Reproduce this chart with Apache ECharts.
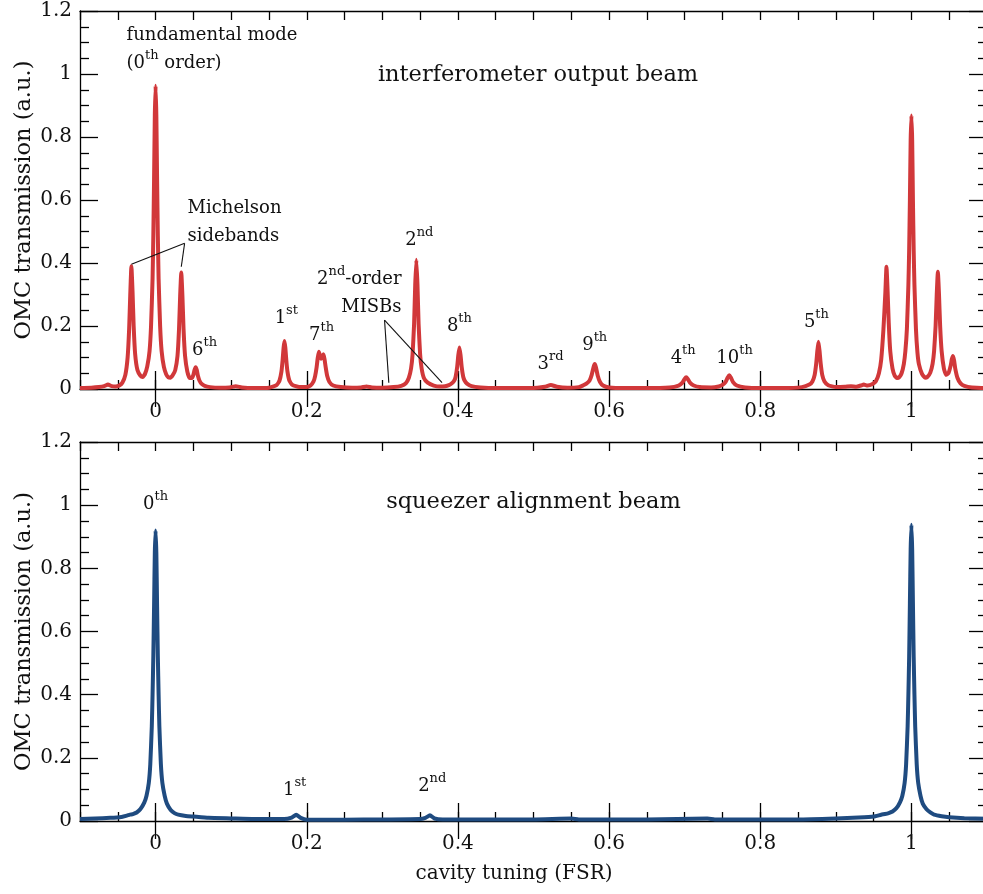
<!DOCTYPE html>
<html>
<head>
<meta charset="utf-8">
<script src="https://cdn.jsdelivr.net/npm/echarts@6/dist/echarts.min.js"></script>
<style>
html,body{margin:0;padding:0;background:#fff;overflow:hidden;}
#chart{width:992px;height:894px;}
</style>
</head>
<body>
<div id="chart"></div>
<script>
// ---------- data ----------
const xMajorTicks = [0, 0.2, 0.4, 0.6, 0.8, 1];
const xMinorTicks = [-0.1, -0.05, 0, 0.05, 0.1, 0.15, 0.2, 0.25, 0.3, 0.35, 0.4, 0.45, 0.5, 0.55, 0.6, 0.65, 0.7, 0.75, 0.8, 0.85, 0.9, 0.95, 1, 1.05, 1.1];

// interferometer output beam (x in FSR, y in a.u.)
const outputBeam = [
[-0.100,0.003],[-0.085,0.004],[-0.075,0.006],[-0.068,0.009],[-0.063,0.014],[-0.058,0.009],[-0.053,0.008],[-0.048,0.011],[-0.044,0.02],[-0.040,0.045],[-0.037,0.1],[-0.035,0.19],[-0.0335,0.3],[-0.032,0.39],[-0.0305,0.31],[-0.029,0.2],[-0.027,0.11],[-0.024,0.06],[-0.020,0.042],[-0.017,0.038],[-0.014,0.048],[-0.011,0.072],[-0.008,0.12],[-0.006,0.2],[-0.004,0.35],[-0.003,0.485],[-0.002,0.665],[-0.001,0.87],[0,0.963],[0.001,0.87],[0.002,0.665],[0.003,0.485],[0.004,0.35],[0.006,0.2],[0.008,0.12],[0.011,0.07],[0.014,0.047],[0.017,0.037],[0.020,0.036],[0.023,0.045],[0.026,0.06],[0.029,0.105],[0.031,0.19],[0.0325,0.295],[0.034,0.37],[0.0355,0.295],[0.037,0.19],[0.039,0.105],[0.042,0.055],[0.045,0.035],[0.048,0.035],[0.050,0.045],[0.0515,0.06],[0.053,0.069],[0.0545,0.06],[0.056,0.042],[0.058,0.027],[0.061,0.016],[0.065,0.01],[0.072,0.006],[0.085,0.004],[0.098,0.005],[0.106,0.009],[0.114,0.005],[0.13,0.003],[0.15,0.004],[0.160,0.012],[0.164,0.027],[0.1665,0.055],[0.168,0.09],[0.1693,0.13],[0.1705,0.152],[0.1717,0.13],[0.173,0.09],[0.1745,0.055],[0.177,0.027],[0.181,0.013],[0.19,0.006],[0.2,0.006],[0.205,0.011],[0.209,0.024],[0.211,0.04],[0.213,0.068],[0.2145,0.098],[0.216,0.118],[0.2175,0.106],[0.219,0.096],[0.2205,0.103],[0.222,0.11],[0.2235,0.095],[0.225,0.07],[0.227,0.042],[0.230,0.022],[0.235,0.011],[0.245,0.006],[0.26,0.004],[0.272,0.005],[0.279,0.008],[0.286,0.005],[0.30,0.004],[0.315,0.006],[0.325,0.01],[0.331,0.018],[0.335,0.035],[0.338,0.065],[0.340,0.11],[0.342,0.205],[0.3435,0.33],[0.345,0.41],[0.3465,0.33],[0.348,0.205],[0.350,0.11],[0.352,0.065],[0.355,0.035],[0.360,0.02],[0.368,0.011],[0.376,0.008],[0.383,0.009],[0.388,0.012],[0.392,0.018],[0.395,0.026],[0.397,0.039],[0.399,0.07],[0.4005,0.107],[0.402,0.132],[0.4035,0.107],[0.405,0.07],[0.407,0.039],[0.409,0.026],[0.412,0.017],[0.418,0.009],[0.43,0.005],[0.45,0.003],[0.48,0.003],[0.505,0.004],[0.515,0.007],[0.523,0.013],[0.531,0.007],[0.545,0.004],[0.56,0.006],[0.566,0.012],[0.570,0.017],[0.574,0.026],[0.577,0.045],[0.5795,0.07],[0.581,0.079],[0.5825,0.07],[0.585,0.042],[0.588,0.022],[0.592,0.011],[0.60,0.005],[0.62,0.003],[0.65,0.003],[0.68,0.005],[0.692,0.011],[0.697,0.02],[0.700,0.032],[0.702,0.037],[0.704,0.032],[0.707,0.02],[0.712,0.011],[0.72,0.006],[0.735,0.005],[0.745,0.008],[0.750,0.013],[0.754,0.022],[0.757,0.037],[0.759,0.044],[0.761,0.037],[0.764,0.022],[0.769,0.011],[0.78,0.005],[0.80,0.003],[0.83,0.003],[0.855,0.006],[0.865,0.014],[0.869,0.024],[0.872,0.045],[0.874,0.08],[0.8755,0.12],[0.877,0.15],[0.8785,0.12],[0.880,0.08],[0.882,0.045],[0.885,0.024],[0.890,0.012],[0.90,0.006],[0.912,0.007],[0.920,0.009],[0.927,0.007],[0.933,0.011],[0.937,0.014],[0.942,0.011],[0.948,0.015],[0.953,0.025],[0.957,0.05],[0.960,0.093],[0.963,0.19],[0.9655,0.305],[0.967,0.388],[0.9685,0.31],[0.970,0.21],[0.972,0.12],[0.975,0.065],[0.978,0.042],[0.981,0.035],[0.984,0.038],[0.987,0.05],[0.990,0.08],[0.992,0.12],[0.994,0.19],[0.996,0.33],[0.997,0.44],[0.998,0.6],[0.999,0.79],[1.000,0.868],[1.001,0.79],[1.002,0.6],[1.003,0.44],[1.004,0.33],[1.006,0.19],[1.008,0.115],[1.010,0.078],[1.014,0.048],[1.018,0.036],[1.021,0.038],[1.025,0.052],[1.028,0.08],[1.030,0.12],[1.032,0.2],[1.0335,0.3],[1.035,0.372],[1.0365,0.3],[1.038,0.2],[1.040,0.12],[1.043,0.065],[1.046,0.045],[1.049,0.05],[1.052,0.075],[1.0535,0.095],[1.055,0.105],[1.0565,0.09],[1.058,0.065],[1.061,0.035],[1.065,0.018],[1.07,0.01],[1.08,0.005],[1.1,0.003]
];

// squeezer alignment beam
const squeezerBeam = [
[-0.1,0.006],[-0.08,0.008],[-0.06,0.01],[-0.045,0.013],[-0.038,0.017],[-0.034,0.02],[-0.03,0.022],[-0.025,0.027],[-0.02,0.038],[-0.015,0.058],[-0.012,0.08],[-0.009,0.12],[-0.007,0.18],[-0.005,0.3],[-0.004,0.4],[-0.003,0.52],[-0.002,0.68],[-0.001,0.85],[0,0.92],[0.001,0.85],[0.002,0.68],[0.003,0.52],[0.004,0.4],[0.005,0.3],[0.007,0.18],[0.009,0.12],[0.012,0.08],[0.015,0.055],[0.02,0.035],[0.025,0.025],[0.03,0.02],[0.04,0.016],[0.05,0.014],[0.07,0.01],[0.1,0.008],[0.13,0.006],[0.17,0.006],[0.18,0.011],[0.186,0.02],[0.192,0.01],[0.2,0.004],[0.25,0.004],[0.3,0.005],[0.35,0.006],[0.357,0.01],[0.363,0.018],[0.369,0.008],[0.38,0.005],[0.45,0.005],[0.5,0.005],[0.55,0.008],[0.56,0.005],[0.65,0.005],[0.73,0.008],[0.74,0.005],[0.85,0.005],[0.9,0.008],[0.93,0.011],[0.95,0.014],[0.96,0.02],[0.965,0.022],[0.97,0.025],[0.975,0.03],[0.98,0.04],[0.985,0.06],[0.988,0.08],[0.991,0.12],[0.993,0.18],[0.995,0.3],[0.996,0.4],[0.997,0.52],[0.998,0.69],[0.999,0.86],[1.0,0.938],[1.001,0.86],[1.002,0.69],[1.003,0.52],[1.004,0.4],[1.005,0.3],[1.007,0.18],[1.009,0.12],[1.012,0.08],[1.015,0.055],[1.02,0.037],[1.025,0.027],[1.03,0.02],[1.04,0.015],[1.05,0.012],[1.07,0.009],[1.1,0.007]
];

// annotations: [x, y, text, align, kind]
const outputLabels = [
  [-0.0384, 1.079, 'fundamental mode\n(0{s|th} order)', 'left'],
  [0.506, 0.997, 'interferometer output beam', 'center', 'title'],
  [0.0423, 0.529, 'Michelson\nsidebands', 'left'],
  [0.0648, 0.124, '6{s|th}', 'center'],
  [0.173, 0.225, '1{s|st}', 'center'],
  [0.2196, 0.171, '7{s|th}', 'center'],
  [0.3254, 0.305, '2{s|nd}-order\nMISBs', 'right'],
  [0.349, 0.473, '2{s|nd}', 'center'],
  [0.402, 0.200, '8{s|th}', 'center'],
  [0.5225, 0.079, '3{s|rd}', 'center'],
  [0.581, 0.140, '9{s|th}', 'center'],
  [0.698, 0.098, '4{s|th}', 'center'],
  [0.766, 0.098, '10{s|th}', 'center'],
  [0.8743, 0.213, '5{s|th}', 'center']
];
const squeezerLabels = [
  [0.0, 1.002, '0{s|th}', 'center'],
  [0.5, 1.009, 'squeezer alignment beam', 'center', 'title'],
  [0.184, 0.097, '1{s|st}', 'center'],
  [0.366, 0.110, '2{s|nd}', 'center']
];
// leader lines: [[x1,y1],[x2,y2]]
const leaderLines = [
  [[-0.032, 0.396], [0.0384, 0.4625]],
  [[0.0384, 0.4625], [0.034, 0.388]],
  [[0.3029, 0.219], [0.3086, 0.02]],
  [[0.3029, 0.219], [0.379, 0.02]]
];

// ---------- styling ----------
const FONT = 'DejaVu Serif';
const AX = '#000';
const TXT = '#111';
const chart = echarts.init(document.getElementById('chart'), null, {renderer: 'canvas'});

const grids = [
  {left: 80, top: 11, width: 907, height: 378},
  {left: 80, top: 442, width: 907, height: 379}
];

function xAxes(gi, withName) {
  const base = {gridIndex: gi, type: 'value', min: -0.1, max: 1.1, splitLine: {show: false}};
  const line = {show: true, onZero: false, lineStyle: {color: AX, width: 1.3}};
  return [
    Object.assign({}, base, {
      position: 'bottom', axisLine: line,
      axisTick: {show: true, inside: true, length: 9, customValues: xMinorTicks, lineStyle: {color: AX, width: 1.3}},
      axisLabel: {show: true, customValues: xMajorTicks, margin: 13, fontFamily: FONT, fontSize: 20, color: TXT},
      name: withName ? 'cavity tuning (FSR)' : '',
      nameLocation: 'middle', nameGap: 43,
      nameTextStyle: {fontFamily: FONT, fontSize: 20, color: TXT, padding: [0, 39, 0, 0]}
    }),
    Object.assign({}, base, {
      position: 'bottom', axisLine: {show: false},
      axisTick: {show: true, inside: true, length: 18, customValues: xMajorTicks, lineStyle: {color: AX, width: 1.3}},
      axisLabel: {show: false}
    }),
    Object.assign({}, base, {
      position: 'top', axisLine: line,
      axisTick: {show: true, inside: true, length: 9, customValues: xMinorTicks, lineStyle: {color: AX, width: 1.3}},
      axisLabel: {show: false}
    }),
    Object.assign({}, base, {
      position: 'top', axisLine: {show: false},
      axisTick: {show: true, inside: true, length: 18, customValues: xMajorTicks, lineStyle: {color: AX, width: 1.3}},
      axisLabel: {show: false}
    })
  ];
}

function yAxes(gi) {
  const base = {gridIndex: gi, type: 'value', min: 0, max: 1.2, interval: 0.2, splitLine: {show: false}};
  const tick = {show: true, inside: true, length: 18, lineStyle: {color: AX, width: 1.3}};
  const minor = {show: true, splitNumber: 4, length: 9, lineStyle: {color: AX, width: 1.3}};
  return [
    Object.assign({}, base, {
      position: 'left',
      axisLine: {show: true, onZero: false, lineStyle: {color: AX, width: 1.3}},
      axisTick: tick, minorTick: minor,
      axisLabel: {show: true, margin: 8, fontFamily: FONT, fontSize: 20, color: TXT},
      name: 'OMC transmission (a.u.)', nameLocation: 'middle', nameGap: 44,
      nameMoveOverlap: false,
      nameTextStyle: {fontFamily: FONT, fontSize: 22.5, color: TXT}
    }),
    Object.assign({}, base, {
      position: 'right',
      axisLine: {show: true, onZero: false, lineStyle: {color: AX, width: 1.3}},
      axisTick: tick, minorTick: minor,
      axisLabel: {show: false}
    })
  ];
}

function markPoints(list) {
  return {
    symbol: 'circle', symbolSize: 1,
    itemStyle: {color: 'rgba(0,0,0,0)'},
    silent: true,
    animation: false,
    data: list.map(function (a) {
      const isTitle = a[4] === 'title';
      return {
        coord: [a[0], a[1]],
        label: {
          show: true, position: 'inside', align: a[3],
          formatter: a[2],
          fontFamily: FONT, fontSize: isTitle ? 22.5 : 18,
          lineHeight: 28,
          color: TXT,
          rich: {
            s: {fontFamily: FONT, fontSize: 13, color: TXT, verticalAlign: 'top', lineHeight: 16}
          }
        }
      };
    })
  };
}

const option = {
  animation: false,
  backgroundColor: '#fff',
  grid: grids,
  xAxis: xAxes(0, false).concat(xAxes(1, true)),
  yAxis: yAxes(0).concat(yAxes(1)),
  series: [
    {
      name: 'interferometer output beam', type: 'line',
      xAxisIndex: 0, yAxisIndex: 0,
      data: outputBeam, showSymbol: false, symbol: 'none', smooth: 0.15,
      lineStyle: {color: '#d1383a', width: 4, join: 'round'},
      markPoint: markPoints(outputLabels),
      markLine: {
        silent: true, symbol: ['none', 'none'], animation: false,
        label: {show: false},
        lineStyle: {color: '#111', width: 1.1, type: 'solid'},
        data: leaderLines.map(function (l) { return [{coord: l[0]}, {coord: l[1]}]; })
      }
    },
    {
      name: 'squeezer alignment beam', type: 'line',
      xAxisIndex: 4, yAxisIndex: 2,
      data: squeezerBeam, showSymbol: false, symbol: 'none', smooth: 0.15,
      lineStyle: {color: '#1f4b80', width: 4, join: 'round'},
      markPoint: markPoints(squeezerLabels)
    }
  ]
};
chart.setOption(option);
</script>
</body>
</html>
